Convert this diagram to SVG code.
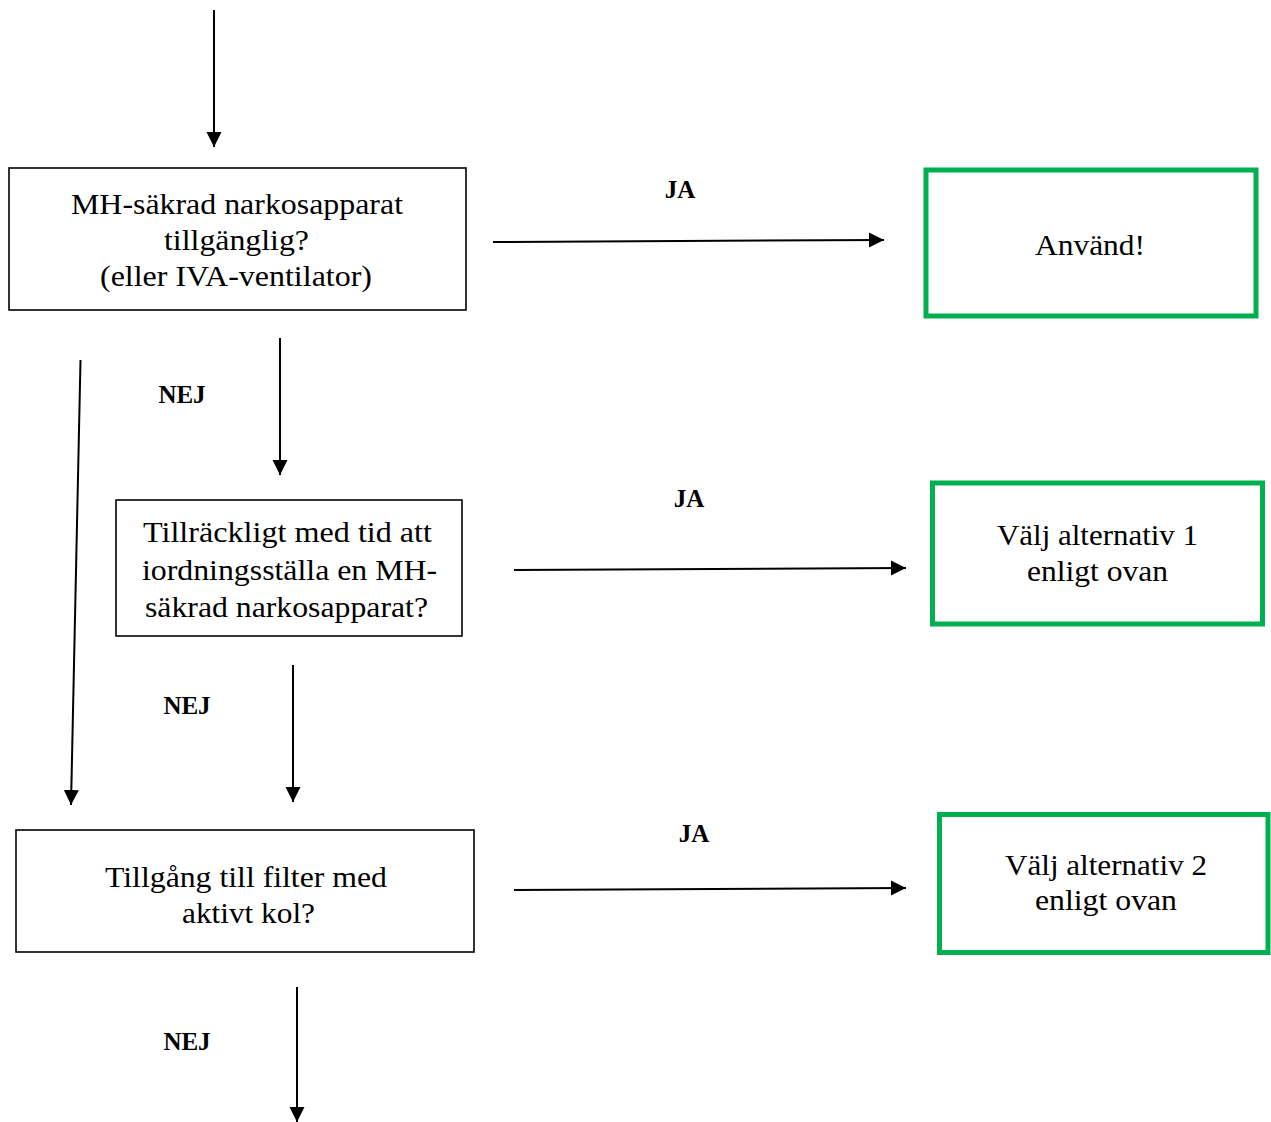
<svg xmlns="http://www.w3.org/2000/svg" width="1271" height="1122" viewBox="0 0 1271 1122">
<style>
.box{fill:#fff;stroke:#000;stroke-width:1.6}
.gbox{fill:#fff;stroke:#00b050;stroke-width:5}
.t{font-family:"Liberation Serif","Times New Roman",serif;font-size:28.5px;fill:#000;text-anchor:middle}
.lbl{font-family:"Liberation Serif","Times New Roman",serif;font-size:25px;font-weight:bold;fill:#000;text-anchor:middle}
.c{stroke:#000;stroke-width:2;fill:none;marker-end:url(#ah)}
</style>
<defs>
<marker id="ah" markerUnits="userSpaceOnUse" markerWidth="16" markerHeight="16" refX="15" refY="8" orient="auto" viewBox="0 0 16 16">
<path d="M0,0.5 L15,8 L0,15.5 Z" fill="#000"/>
</marker>
</defs>
<g id="connectors">
<line class="c" x1="214" y1="10" x2="214" y2="147"/>
<line class="c" x1="493" y1="242" x2="884" y2="240"/>
<line class="c" x1="80.5" y1="360" x2="71" y2="805"/>
<line class="c" x1="280" y1="338" x2="280" y2="475"/>
<line class="c" x1="514" y1="570" x2="906" y2="568"/>
<line class="c" x1="293" y1="665" x2="293" y2="802"/>
<line class="c" x1="514" y1="890" x2="906" y2="888"/>
<line class="c" x1="297" y1="987" x2="297" y2="1122"/>
<text class="lbl" x="680" y="198">JA</text>
<text class="lbl" x="182" y="403">NEJ</text>
<text class="lbl" x="689" y="507">JA</text>
<text class="lbl" x="187" y="714">NEJ</text>
<text class="lbl" x="694" y="842">JA</text>
<text class="lbl" x="187" y="1050">NEJ</text>
</g>
<g id="n1">
<rect class="box" x="9" y="168" width="457" height="142"/>
<text class="t" x="237" y="214" textLength="332" lengthAdjust="spacingAndGlyphs">MH-säkrad narkosapparat</text>
<text class="t" x="236.5" y="250" textLength="145" lengthAdjust="spacingAndGlyphs">tillgänglig?</text>
<text class="t" x="236" y="286" textLength="272" lengthAdjust="spacingAndGlyphs">(eller IVA-ventilator)</text>
</g>
<g id="n2">
<rect class="gbox" x="926" y="170" width="330" height="146"/>
<text class="t" x="1090" y="255" textLength="110" lengthAdjust="spacingAndGlyphs">Använd!</text>
</g>
<g id="n3">
<rect class="box" x="116" y="500" width="346" height="136"/>
<text class="t" x="287.5" y="542" textLength="289" lengthAdjust="spacingAndGlyphs">Tillräckligt med tid att</text>
<text class="t" x="289.5" y="580" textLength="295" lengthAdjust="spacingAndGlyphs">iordningsställa en MH-</text>
<text class="t" x="286.5" y="617" textLength="283" lengthAdjust="spacingAndGlyphs">säkrad narkosapparat?</text>
</g>
<g id="n4">
<rect class="gbox" x="932.5" y="483" width="330" height="141"/>
<text class="t" x="1097.5" y="545" textLength="201" lengthAdjust="spacingAndGlyphs">Välj alternativ 1</text>
<text class="t" x="1097.5" y="581" textLength="141" lengthAdjust="spacingAndGlyphs">enligt ovan</text>
</g>
<g id="n5">
<rect class="box" x="16" y="830" width="458" height="122"/>
<text class="t" x="246" y="887" textLength="282" lengthAdjust="spacingAndGlyphs">Tillgång till filter med</text>
<text class="t" x="248.5" y="923" textLength="133" lengthAdjust="spacingAndGlyphs">aktivt kol?</text>
</g>
<g id="n6">
<rect class="gbox" x="939.5" y="814.5" width="328.5" height="138"/>
<text class="t" x="1106" y="875" textLength="202" lengthAdjust="spacingAndGlyphs">Välj alternativ 2</text>
<text class="t" x="1106" y="910" textLength="142" lengthAdjust="spacingAndGlyphs">enligt ovan</text>
</g>
</svg>
